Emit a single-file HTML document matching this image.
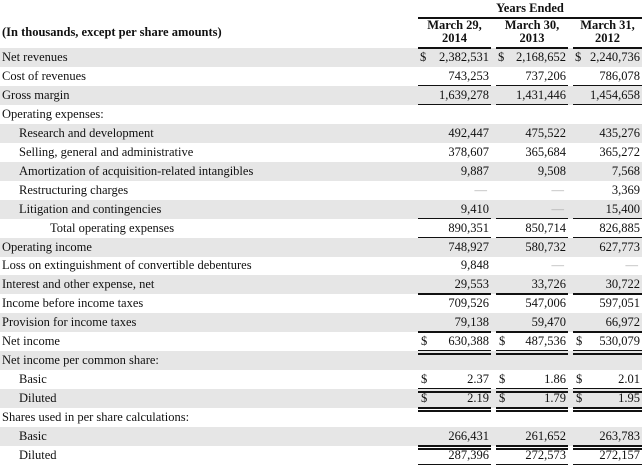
<!DOCTYPE html>
<html><head><meta charset="utf-8">
<style>
body{margin:0;width:642px;height:464px;overflow:hidden;background:#fff;font-family:"Liberation Serif",serif;font-size:12.5px;color:#111;position:relative}
.a{position:absolute;white-space:nowrap}
.row{position:absolute;left:0;width:642px;height:19px}
.sh{background:#e6e6e6}
.lbl{position:absolute;top:0;line-height:19px}
.v{position:absolute;top:0;line-height:19px;text-align:right}
.d{position:absolute;top:0;line-height:19px}
.ln{position:absolute;height:1.5px;background:#111}
.h{font-weight:bold;text-align:center;line-height:13px}
</style></head><body>
<div class="a h" style="left:418px;width:224px;top:2px">Years Ended</div>
<div class="ln" style="left:418px;width:224px;top:17px"></div>
<div class="a h" style="left:418px;width:73px;top:19px">March 29,<br>2014</div>
<div class="a h" style="left:496px;width:72px;top:19px">March 30,<br>2013</div>
<div class="a h" style="left:573px;width:69px;top:19px">March 31,<br>2012</div>
<div class="a" style="left:2px;top:25px;font-weight:bold">(In thousands, except per share amounts)</div>
<div id="tbl"></div>
<script>
const labels=["Net revenues","Cost of revenues","Gross margin","Operating expenses:","Research and development","Selling, general and administrative","Amortization of acquisition-related intangibles","Restructuring charges","Litigation and contingencies","Total operating expenses","Operating income","Loss on extinguishment of convertible debentures","Interest and other expense, net","Income before income taxes","Provision for income taxes","Net income","Net income per common share:","Basic","Diluted","Shares used in per share calculations:","Basic","Diluted"];
const indent=[0,0,0,0,17,17,17,17,17,48,0,0,0,0,0,0,0,17,17,0,17,17];
const v2014=["2,382,531","743,253","1,639,278","","492,447","378,607","9,887","—","9,410","890,351","748,927","9,848","29,553","709,526","79,138","630,388","","2.37","2.19","","266,431","287,396"];
const v2013=["2,168,652","737,206","1,431,446","","475,522","365,684","9,508","—","—","850,714","580,732","—","33,726","547,006","59,470","487,536","","1.86","1.79","","261,652","272,573"];
const v2012=["2,240,736","786,078","1,454,658","","435,276","365,272","7,568","3,369","15,400","826,885","627,773","—","30,722","597,051","66,972","530,079","","2.01","1.95","","263,783","272,157"];
const dollarNear=[0];
const dollarFar=[15,17,18];
const ruleSingle=[1,2,8,9,12,14,21];
const ruleDouble=[15,17,18,20];
const cols=[{l:418,r:491},{l:496,r:568},{l:573,r:642}];
const vals=[v2014,v2013,v2012];
const tbl=document.getElementById('tbl');
const top0=48,pitch=18.95;
labels.forEach((lab,i)=>{
  const y=top0+i*pitch;
  const row=document.createElement('div');
  row.className='row'+(i%2===0?' sh':'');
  row.style.top=y+'px';
  
  
  const l=document.createElement('div');
  l.className='lbl';l.style.left=(2+indent[i])+'px';l.textContent=lab;
  
  
  row.appendChild(l);
  cols.forEach((c,k)=>{
    const t=vals[k][i];
    if(t){
      const v=document.createElement('div');
      v.className='v';
      const isDash=t==='—';
      v.style.left=c.l+'px';v.style.width=(c.r-c.l-(isDash?4:2))+'px';
      if(isDash) v.style.color='#aaa';
      v.textContent=t;
      
      
      row.appendChild(v);
    }
    if(dollarNear.includes(i)||dollarFar.includes(i)){
      const d=document.createElement('div');
      d.className='d';
      d.style.left=(c.l+(dollarNear.includes(i)?2:3))+'px';
      d.textContent='$';
      
      
      row.appendChild(d);
    }
    if(ruleSingle.includes(i)||ruleDouble.includes(i)){
      const r=document.createElement('div');
      r.className='ln';
      r.style.left=c.l+'px';r.style.width=(c.r-c.l)+'px';r.style.top='18px';
      
      
      row.appendChild(r);
      if(ruleDouble.includes(i)){
        const r2=document.createElement('div');
        r2.className='ln';
        r2.style.left=c.l+'px';r2.style.width=(c.r-c.l)+'px';r2.style.top='21px';r2.style.zIndex='2';
        
        
        row.appendChild(r2);
      }
    }
  });
  tbl.appendChild(row);
});
cols.forEach((c,k)=>{
  const r=document.createElement('div');
  r.className='ln';r.style.left=c.l+'px';r.style.width=(c.r-c.l)+'px';r.style.top='47px';r.style.height='2px';r.style.zIndex='3';
  
  
  document.body.appendChild(r);
});
</script>
</body></html>
